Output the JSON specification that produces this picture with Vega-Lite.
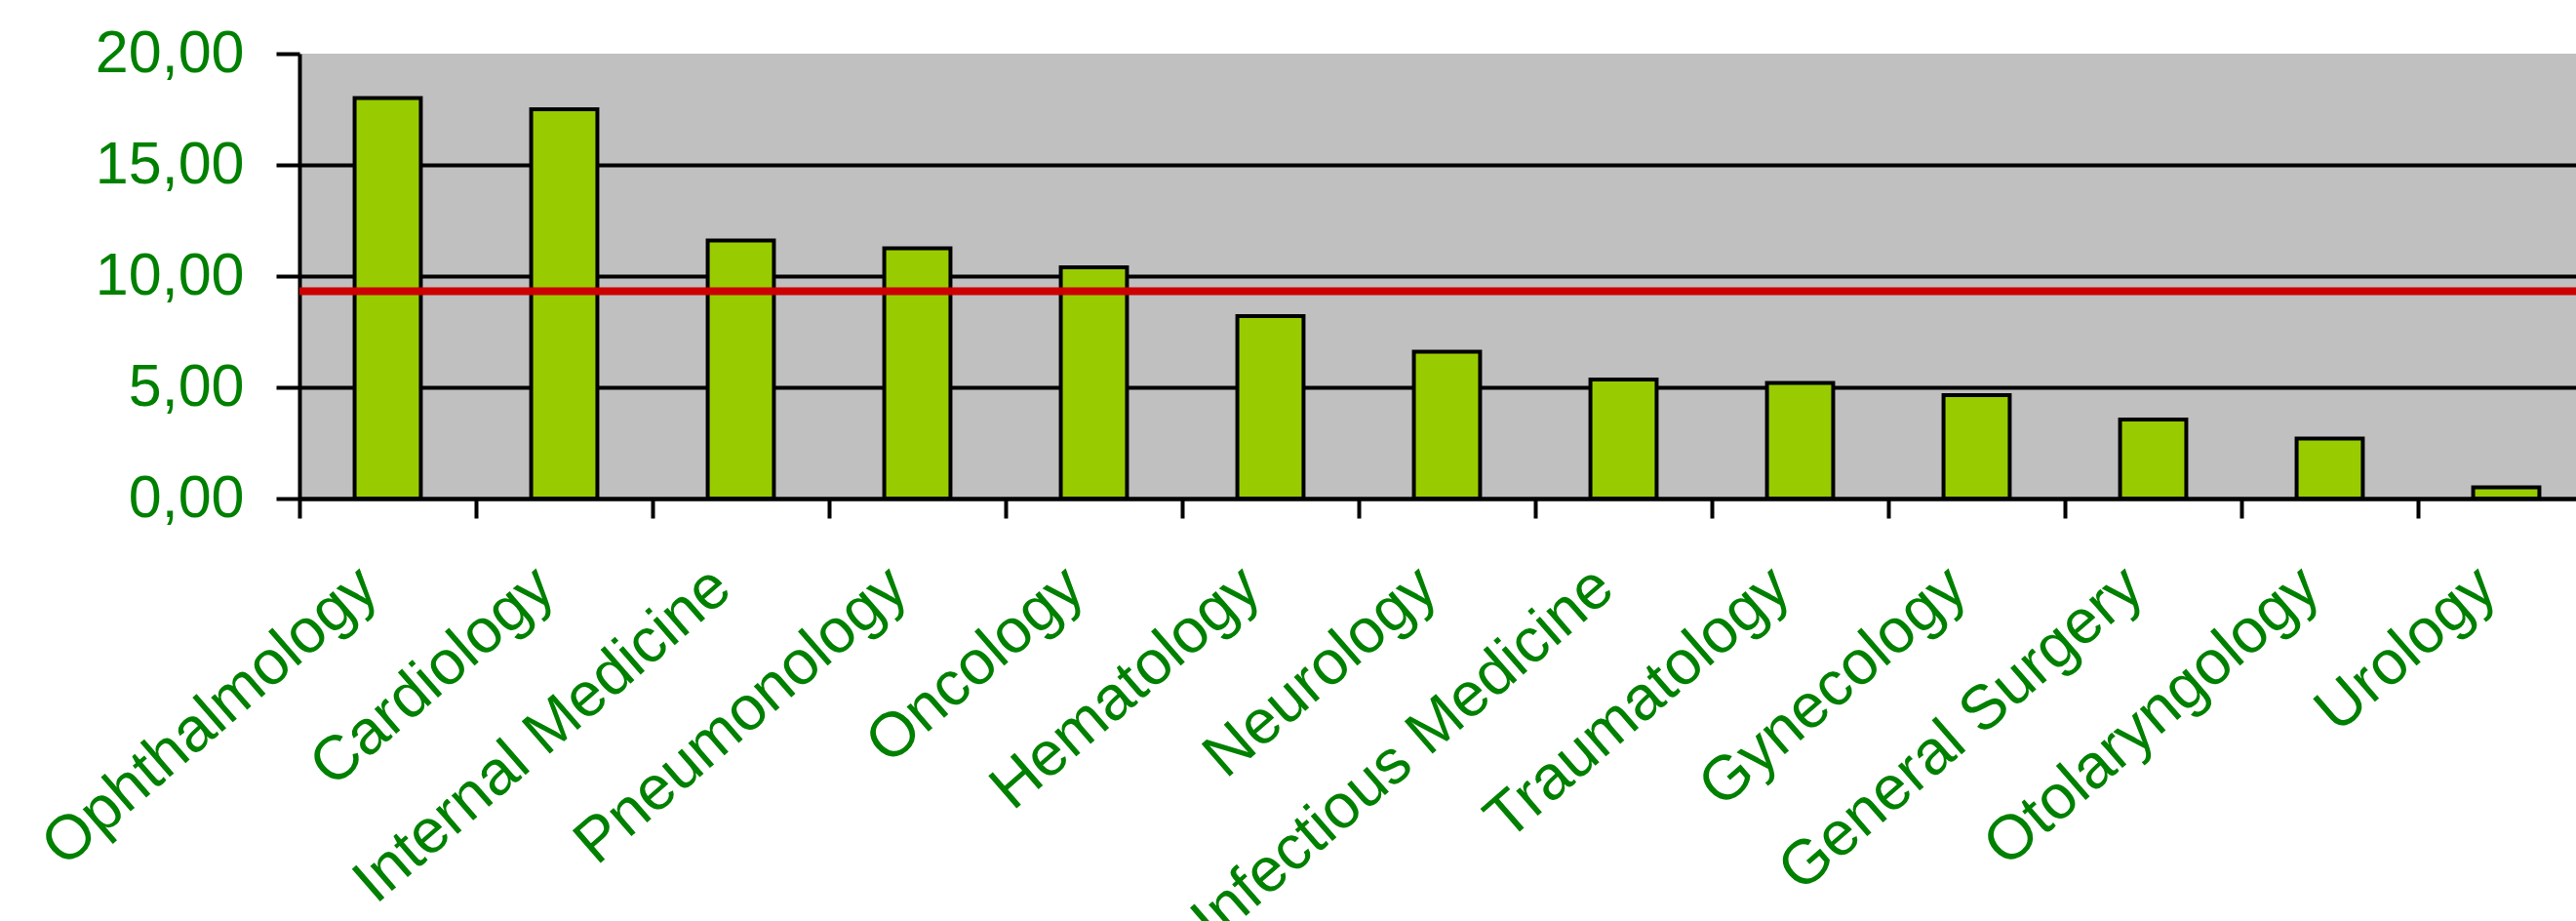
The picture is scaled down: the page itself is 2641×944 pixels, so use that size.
{
  "$schema": "https://vega.github.io/schema/vega-lite/v6.json",
  "width": 2334,
  "height": 456,
  "autosize": {"type": "none"},
  "padding": {"left": 307, "top": 55, "right": 0, "bottom": 433},
  "background": "white",
  "config": {
    "view": {"fill": "#C0C0C0", "stroke": null},
    "axis": {
      "labelFont": "Liberation Sans",
      "labelFontSize": 61,
      "labelColor": "#008000",
      "labelLimit": 0,
      "domainColor": "black",
      "domainWidth": 4,
      "tickColor": "black",
      "tickWidth": 4,
      "gridColor": "black",
      "gridWidth": 4,
      "gridOpacity": 1,
      "title": null
    }
  },
  "layer": [
    {
      "data": {
        "values": [
          {"specialty": "Ophthalmology", "value": 18.0},
          {"specialty": "Cardiology", "value": 17.5},
          {"specialty": "Internal Medicine", "value": 11.6},
          {"specialty": "Pneumonology", "value": 11.25},
          {"specialty": "Oncology", "value": 10.4},
          {"specialty": "Hematology", "value": 8.2},
          {"specialty": "Neurology", "value": 6.6},
          {"specialty": "Infectious Medicine", "value": 5.35},
          {"specialty": "Traumatology", "value": 5.2},
          {"specialty": "Gynecology", "value": 4.65},
          {"specialty": "General Surgery", "value": 3.55},
          {"specialty": "Otolaryngology", "value": 2.7},
          {"specialty": "Urology", "value": 0.5}
        ]
      },
      "mark": {"type": "bar", "fill": "#99CC00", "stroke": "black", "strokeWidth": 4},
      "encoding": {
        "x": {
          "field": "specialty",
          "type": "nominal",
          "sort": null,
          "scale": {"range": [0, 2353], "paddingInner": 0.625, "paddingOuter": 0.3125},
          "axis": {
            "grid": false,
            "tickOffset": -90.5,
            "labelOffset": 50,
            "tickSize": 20,
            "domainWidth": 4,
            "tickWidth": 4,
            "labelFontSize": 64,
            "labelAngle": -41,
            "labelAlign": "right",
            "labelBaseline": "top",
            "labelPadding": 38
          }
        },
        "y": {
          "field": "value",
          "type": "quantitative",
          "scale": {"domain": [0, 20], "nice": false},
          "axis": {
            "values": [0, 5, 10, 15, 20],
            "labelExpr": "replace(format(datum.value, '.2f'), '.', ',')",
            "tickSize": 24,
            "domainWidth": 4,
            "tickWidth": 4,
            "gridWidth": 4,
            "gridOpacity": {"condition": {"test": "datum.value >= 20", "value": 0}, "value": 1},
            "labelPadding": 33,
            "grid": true
          }
        }
      }
    },
    {
      "data": {"values": [{"reference": 9.32}]},
      "mark": {"type": "rule", "color": "#CC0000", "strokeWidth": 8},
      "encoding": {
        "y": {"field": "reference", "type": "quantitative"}
      }
    }
  ]
}
